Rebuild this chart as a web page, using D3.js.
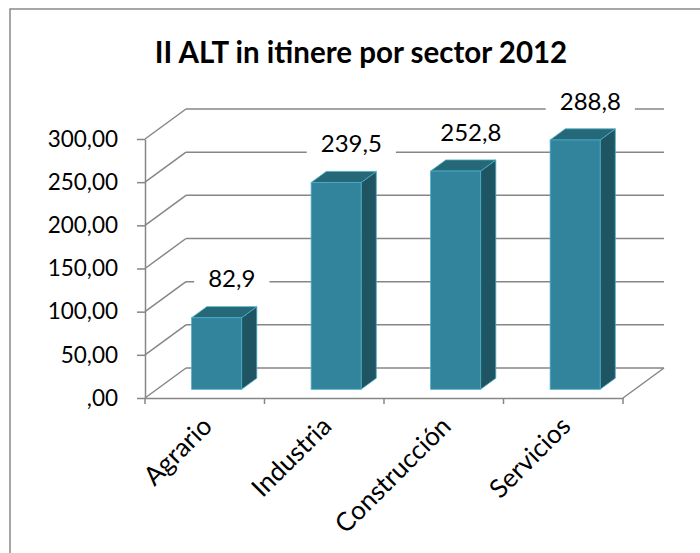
<!DOCTYPE html>
<html>
<head>
<meta charset="utf-8">
<script src="https://cdn.jsdelivr.net/npm/d3@7"></script>
<style>
  body { margin: 0; background: #fff; }
  svg { display: block; font-family: Lato, "Open Sans", sans-serif; }
</style>
</head>
<body>
<div id="chart"></div>
<script>
const categories = ["Agrario", "Industria", "Construcción", "Servicios"];
const values = [82.9, 239.5, 252.8, 288.8];
const valueLabels = ["82,9", "239,5", "252,8", "288,8"];
const yTicks = [0, 50, 100, 150, 200, 250, 300];

const W = 700, H = 553;
const DX = 41, DY = -30;          // depth offset of the back wall
const d0 = 0.29, d1 = 0.66;       // bar front / back depth
const barW = 50;

const svg = d3.select("#chart").append("svg")
  .attr("width", W).attr("height", H);

// chart frame (runs past right and bottom edge)
svg.append("rect")
  .attr("x", 10).attr("y", 9)
  .attr("width", 720).attr("height", 600)
  .attr("fill", "#fff")
  .attr("stroke", "#898989").attr("stroke-width", 1.5);

svg.append("text")
  .attr("x", 361).attr("y", 63)
  .attr("text-anchor", "middle")
  .style("font-size", "29.5px").style("font-weight", "bold")
  .text("II ALT in itinere por sector 2012");

const x = d3.scaleBand().domain(categories).range([145, 623]);
const y = d3.scaleLinear().domain([0, 300]).range([398, 139]);

const grid = svg.append("g")
  .attr("stroke", "#868686").attr("stroke-width", 1.5).attr("fill", "none");

// back wall lines + side wall diagonals
yTicks.forEach(t => {
  grid.append("line")
    .attr("x1", x.range()[0] + DX).attr("x2", x.range()[1] + DX)
    .attr("y1", y(t) + DY).attr("y2", y(t) + DY);
  grid.append("line")
    .attr("x1", x.range()[0]).attr("x2", x.range()[0] + DX)
    .attr("y1", y(t)).attr("y2", y(t) + DY);
});
// floor right edge
grid.append("line")
  .attr("x1", x.range()[1]).attr("y1", y(0))
  .attr("x2", x.range()[1] + DX).attr("y2", y(0) + DY);

// bars
const bars = svg.append("g").selectAll("g")
  .data(categories.map((c, i) => ({ c, v: values[i], label: valueLabels[i] })))
  .enter().append("g");

const ddx = (d1 - d0) * DX, ddy = (d1 - d0) * DY;
const fx = d => x(d.c) + (x.bandwidth() - barW) / 2 + d0 * DX;
const barTop = d => y(d.v) + d0 * DY;
const barBot = () => y(0) + d0 * DY;

bars.append("path")
  .attr("fill", "#1f5563").attr("stroke", "#4bacc6").attr("stroke-width", 0.8)
  .attr("d", d => `M${fx(d) + barW},${barTop(d)} l${ddx},${ddy} L${fx(d) + barW + ddx},${barBot() + ddy} L${fx(d) + barW},${barBot()} Z`);
bars.append("path")
  .attr("fill", "#256878").attr("stroke", "#4bacc6").attr("stroke-width", 0.8)
  .attr("d", d => `M${fx(d)},${barTop(d)} l${ddx},${ddy} h${barW} L${fx(d) + barW},${barTop(d)} Z`);
bars.append("rect")
  .attr("fill", "#31849b").attr("stroke", "#4bacc6").attr("stroke-width", 0.8)
  .attr("x", fx).attr("y", barTop)
  .attr("width", barW).attr("height", d => barBot() - barTop(d));

// data labels with white box
const lab = bars.append("g")
  .attr("transform", d => `translate(${fx(d) + barW / 2 + ddx},${barTop(d) + ddy - 28})`);
const labBox = lab.append("rect").attr("fill", "#fff");
const labText = lab.append("text")
  .attr("text-anchor", "middle").attr("dy", "0.36em")
  .style("font-size", "24px")
  .text(d => d.label);
labText.each(function () {
  const w = this.getComputedTextLength();
  d3.select(this.previousSibling)
    .attr("x", -w / 2 - 14).attr("y", -15)
    .attr("width", w + 28).attr("height", 30);
});

// front y axis
const fmt = v => v === 0 ? ",00" : d3.format(".2f")(v).replace(".", ",");
const yAxis = svg.append("g")
  .attr("transform", `translate(${x.range()[0]},0)`)
  .call(d3.axisLeft(y).tickValues(yTicks).tickFormat(fmt).tickSize(8).tickPadding(19).tickSizeOuter(0));
yAxis.select(".domain").attr("stroke", "#868686").attr("stroke-width", 1.5);
yAxis.selectAll(".tick line").attr("stroke", "#868686").attr("stroke-width", 1.5);
yAxis.selectAll("text").style("font-size", "22.5px").style("font-family", "Lato, sans-serif").attr("fill", "#000");

// front x axis
const xAxis = svg.append("g")
  .attr("transform", `translate(0,${y(0)})`)
  .call(d3.axisBottom(x).tickSize(0).tickPadding(0).tickSizeOuter(0));
xAxis.select(".domain").attr("stroke", "#868686").attr("stroke-width", 1.5);
xAxis.selectAll(".tick text")
  .style("font-size", "26px").style("font-family", "Lato, sans-serif").attr("fill", "#000")
  .attr("text-anchor", "end")
  .attr("dy", "0.7em")
  .attr("transform", "translate(-4,17) rotate(-45)");
const bounds = categories.map(c => x(c)).concat([x.range()[1]]);
xAxis.selectAll(".bound").data(bounds).enter().append("line")
  .attr("x1", d => d).attr("x2", d => d).attr("y1", 0).attr("y2", 6)
  .attr("stroke", "#868686").attr("stroke-width", 1.5);
</script>
</body>
</html>
